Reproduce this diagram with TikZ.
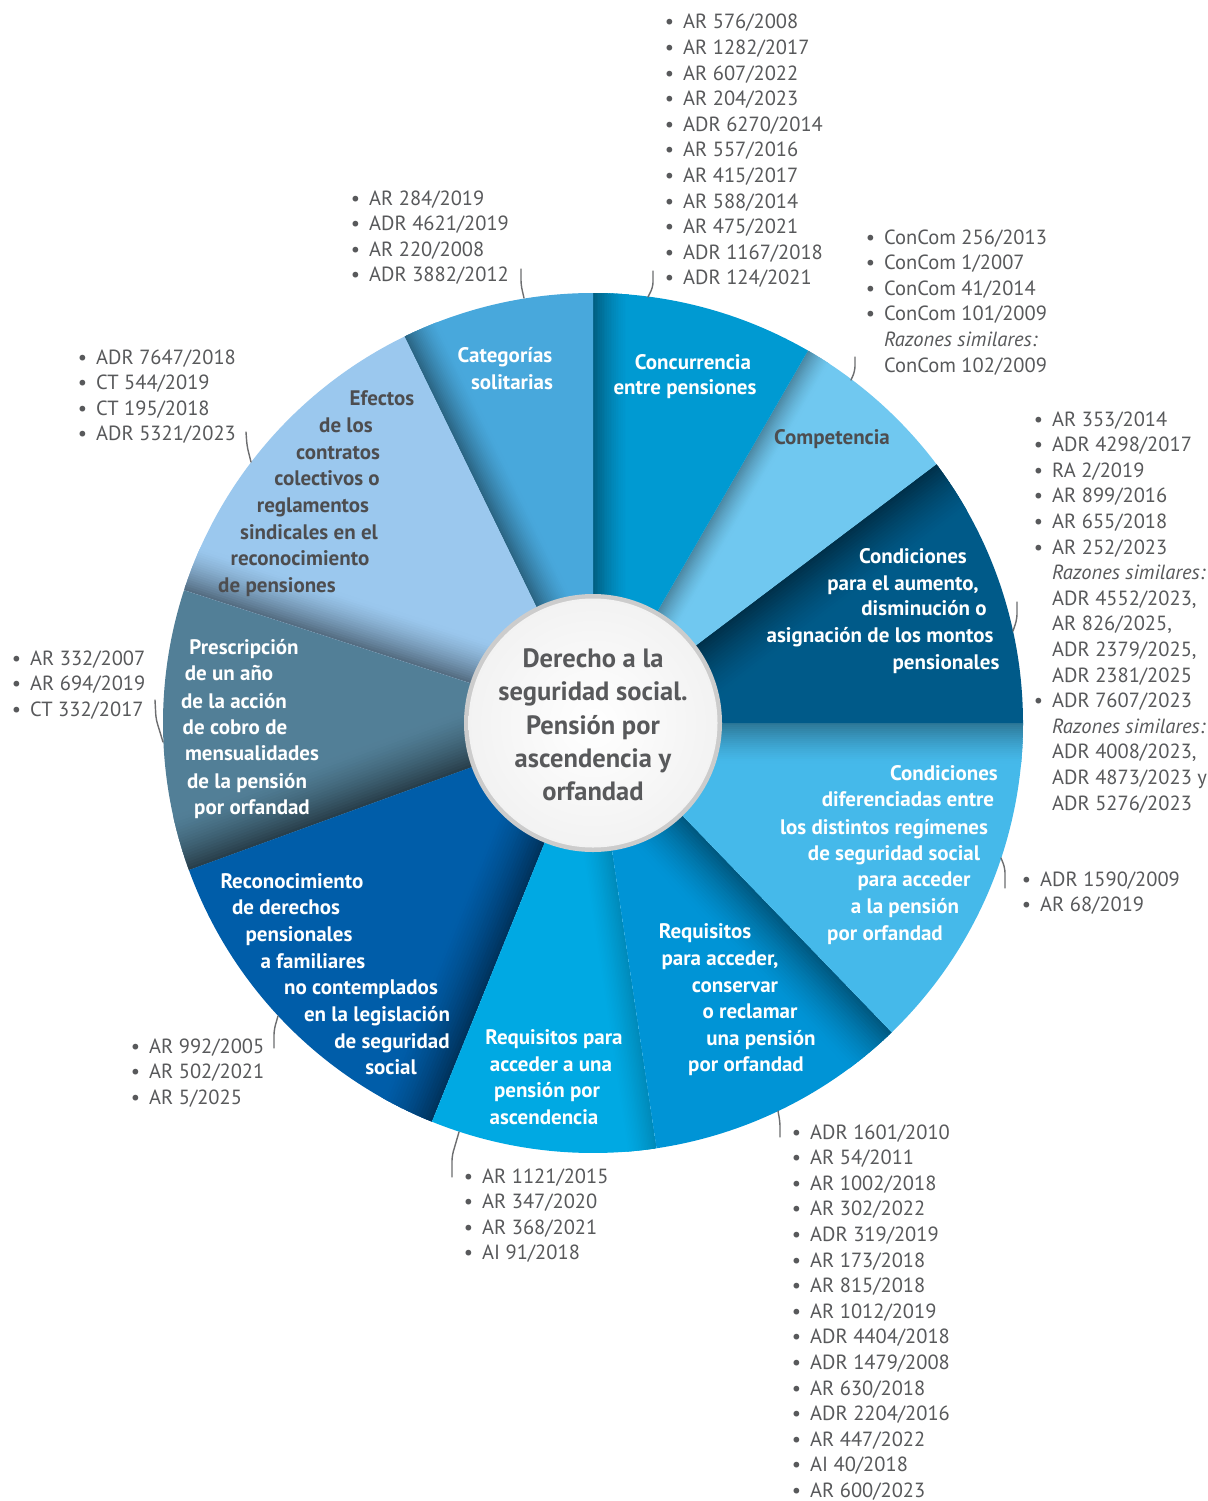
\documentclass[tikz,border=0pt]{standalone}
\usepackage{fontspec}
\setmainfont{PT Sans}
\definecolor{txtgray}{HTML}{58595B}
\definecolor{dkgray}{HTML}{4D4D4F}
\definecolor{leader}{HTML}{6D6E70}
\definecolor{cCat}{HTML}{48A8DC}
\definecolor{cCon}{HTML}{009AD2}
\definecolor{cCom}{HTML}{70C8F0}
\definecolor{cAum}{HTML}{005A89}
\definecolor{cDif}{HTML}{45B9EA}
\definecolor{cReqO}{HTML}{0094D6}
\definecolor{cReqA}{HTML}{00A9E3}
\definecolor{cRec}{HTML}{005DA9}
\definecolor{cPre}{HTML}{527F97}
\definecolor{cEfe}{HTML}{9BC8EE}
% #1 start angle, #2 end angle, #3 base colour, #4 shadow colour, #5 shadow width
\newcommand\pieslice[5]{%
  \begin{scope}
    \clip (0,0) -- (#1:430) arc[start angle=#1, end angle=#2, radius=430] -- cycle;
    \fill[#3] (-440,-440) rectangle (440,440);
    \begin{scope}[rotate=-#2]
      \foreach \k in {0,...,19}{%
        \pgfmathtruncatemacro\pct{100*(1-\k/20)^1.4}%
        \fill[#4!\pct!#3] (0,{-#5*\k/20}) rectangle (440,{-#5*(\k+1)/20-0.8});
      }
    \end{scope}
  \end{scope}}
\newcommand\itm{\llap{\textbullet\hspace{9pt}}}
\begin{document}
\begin{tikzpicture}[x=1pt,y=-1pt,
  lab/.style={anchor=base, inner sep=0pt, font=\bfseries\fontsize{21}{26}\selectfont, text=white},
  labd/.style={lab, text=dkgray},
  hubtxt/.style={anchor=base, inner sep=0pt, font=\bfseries\fontsize{26.5}{33}\selectfont, text=txtgray},
  lst/.style={anchor=base west, inner sep=0pt, font=\fontsize{20.5}{25.6}\selectfont, text=txtgray},
  leaderline/.style={draw=leader, line width=1.4pt, rounded corners=5pt, line cap=round}]
\useasboundingbox (0,0) rectangle (1207,1501);
\fill[white] (0,0) rectangle (1207,1501);

% ---- pie ----
\begin{scope}[shift={(593,723)}, yscale=-1]
  \pieslice{162}{200}{cPre}{cPre!50!black}{55}
  \pieslice{200}{248}{cRec}{cRec!55!black}{55}
  \pieslice{248}{278.5}{cReqA}{cReqA!82!black}{30}
  \pieslice{278.5}{314}{cReqO}{cReqO!60!black}{55}
  \pieslice{314}{360}{cDif}{cDif!65!black}{40}
  \pieslice{0}{37}{cAum}{cAum!55!black}{55}
  \pieslice{37}{60}{cCom}{cCom!68!black}{25}
  \pieslice{60}{90}{cCon}{cCon!62!black}{35}
  \pieslice{90}{116}{cCat}{cCat!60!black}{35}
  \pieslice{116}{162}{cEfe}{cEfe!55!black}{45}
  \fill[black!20] (0,0) circle[radius=129];
  \shade[inner color=white, outer color=black!5] (0,0) circle[radius=124.5];
\end{scope}

% ---- centre text ----
\node[hubtxt] (hub1) at (593,667) {Derecho a la};
\node[hubtxt] (hub2) at (593,700) {seguridad social.};
\node[hubtxt] (hub3) at (593,734) {Pensión por};
\node[hubtxt] (hub4) at (593,767) {ascendencia y};
\node[hubtxt] (hub5) at (593,800) {orfandad};

% ---- sector labels ----
\node[lab] (cat1) at (505,362) {Categorías};
\node[lab] (cat2) at (512,389) {solitarias};

\node[lab] (con1) at (693,369) {Concurrencia};
\node[lab] (con2) at (685,394) {entre pensiones};

\node[labd] (com1) at (832,444) {Competencia};

\node[lab] (aum1) at (913,563) {Condiciones};
\node[lab] (aum2) at (903,590) {para el aumento,};
\node[lab] (aum3) at (924,615) {disminución o};
\node[lab] (aum4) at (880,642) {asignación de los montos};
\node[lab] (aum5) at (946,669) {pensionales};

\node[lab] (dif1) at (944,780) {Condiciones};
\node[lab] (dif2) at (908,806) {diferenciadas entre};
\node[lab] (dif3) at (884,834) {los distintos regímenes};
\node[lab] (dif4) at (894,860) {de seguridad social};
\node[lab] (dif5) at (914,886) {para acceder};
\node[lab] (dif6) at (905,913) {a la pensión};
\node[lab] (dif7) at (885,940) {por orfandad};

\node[lab] (rqo1) at (705,938) {Requisitos};
\node[lab] (rqo2) at (720,965) {para acceder,};
\node[lab] (rqo3) at (735,992) {conservar};
\node[lab] (rqo4) at (750,1018) {o reclamar};
\node[lab] (rqo5) at (761,1045) {una pensión};
\node[lab] (rqo6) at (746,1071) {por orfandad};

\node[lab] (rqa1) at (554,1044) {Requisitos para};
\node[lab] (rqa2) at (551,1071) {acceder a una};
\node[lab] (rqa3) at (547,1097) {pensión por};
\node[lab] (rqa4) at (544,1124) {ascendencia};

\node[lab] (rec1) at (292,888) {Reconocimiento};
\node[lab] (rec2) at (286,914) {de derechos};
\node[lab] (rec3) at (299,941) {pensionales};
\node[lab] (rec4) at (313,968) {a familiares};
\node[lab] (rec5) at (361,994) {no contemplados};
\node[lab] (rec6) at (377,1021) {en la legislación};
\node[lab] (rec7) at (392,1048) {de seguridad};
\node[lab] (rec8) at (391,1074) {social};

\node[lab] (pre1) at (244,654) {Prescripción};
\node[lab] (pre2) at (229,680) {de un año};
\node[lab] (pre3) at (234,708) {de la acción};
\node[lab] (pre4) at (235,734) {de cobro de};
\node[lab] (pre5) at (252,760) {mensualidades};
\node[lab] (pre6) at (247,788) {de la pensión};
\node[lab] (pre7) at (252,814) {por orfandad};

\node[labd] (efe1) at (382,405) {Efectos};
\node[labd] (efe2) at (346,432) {de los};
\node[labd] (efe3) at (338,459) {contratos};
\node[labd] (efe4) at (327,485) {colectivos o};
\node[labd] (efe5) at (313,512) {reglamentos};
\node[labd] (efe6) at (309,539) {sindicales en el};
\node[labd] (efe7) at (300,565) {reconocimiento};
\node[labd] (efe8) at (277,592) {de pensiones};

% ---- lists ----
\node[lst] (Lcon) at (683,29) {\begin{tabular}[t]{@{}l@{}}
\itm AR 576/2008\\ \itm AR 1282/2017\\ \itm AR 607/2022\\ \itm AR 204/2023\\
\itm ADR 6270/2014\\ \itm AR 557/2016\\ \itm AR 415/2017\\ \itm AR 588/2014\\
\itm AR 475/2021\\ \itm ADR 1167/2018\\ \itm ADR 124/2021\end{tabular}};

\node[lst] (Lcom) at (884,244) {\begin{tabular}[t]{@{}l@{}}
\itm ConCom 256/2013\\ \itm ConCom 1/2007\\ \itm ConCom 41/2014\\ \itm ConCom 101/2009\\
\textit{Razones similares:}\\ ConCom 102/2009\end{tabular}};

\node[lst] (Lcat) at (369,205) {\begin{tabular}[t]{@{}l@{}}
\itm AR 284/2019\\ \itm ADR 4621/2019\\ \itm AR 220/2008\\ \itm ADR 3882/2012\end{tabular}};

\node[lst] (Lefe) at (96,364) {\begin{tabular}[t]{@{}l@{}}
\itm ADR 7647/2018\\ \itm CT 544/2019\\ \itm CT 195/2018\\ \itm ADR 5321/2023\end{tabular}};

\node[lst] (Lpre) at (30,665) {\begin{tabular}[t]{@{}l@{}}
\itm AR 332/2007\\ \itm AR 694/2019\\ \itm CT 332/2017\end{tabular}};

\node[lst] (Laum) at (1052,426) {\begin{tabular}[t]{@{}l@{}}
\itm AR 353/2014\\ \itm ADR 4298/2017\\ \itm RA 2/2019\\ \itm AR 899/2016\\
\itm AR 655/2018\\ \itm AR 252/2023\\ \textit{Razones similares:}\\ ADR 4552/2023,\\
AR 826/2025,\\ ADR 2379/2025,\\ ADR 2381/2025\\ \itm ADR 7607/2023\\
\textit{Razones similares:}\\ ADR 4008/2023,\\ ADR 4873/2023 y\\ ADR 5276/2023\end{tabular}};

\node[lst] (Ldif) at (1040,886) {\begin{tabular}[t]{@{}l@{}}
\itm ADR 1590/2009\\ \itm AR 68/2019\end{tabular}};

\node[lst] (Lrqo) at (810,1139) {\begin{tabular}[t]{@{}l@{}}
\itm ADR 1601/2010\\ \itm AR 54/2011\\ \itm AR 1002/2018\\ \itm AR 302/2022\\
\itm ADR 319/2019\\ \itm AR 173/2018\\ \itm AR 815/2018\\ \itm AR 1012/2019\\
\itm ADR 4404/2018\\ \itm ADR 1479/2008\\ \itm AR 630/2018\\ \itm ADR 2204/2016\\
\itm AR 447/2022\\ \itm AI 40/2018\\ \itm AR 600/2023\end{tabular}};

\node[lst] (Lrqa) at (482,1183) {\begin{tabular}[t]{@{}l@{}}
\itm AR 1121/2015\\ \itm AR 347/2020\\ \itm AR 368/2021\\ \itm AI 91/2018\end{tabular}};

\node[lst] (Lrec) at (149,1053) {\begin{tabular}[t]{@{}l@{}}
\itm AR 992/2005\\ \itm AR 502/2021\\ \itm AR 5/2025\end{tabular}};

% ---- leader lines ----
\coordinate (kcon1) at (648,297); \coordinate (kcon2) at (653,287); \coordinate (kcon3) at (653,271);
\coordinate (kcom1) at (851,380); \coordinate (kcom2) at (855,371); \coordinate (kcom3) at (855,357);
\coordinate (kcat1) at (524,298); \coordinate (kcat2) at (521,285); \coordinate (kcat3) at (521,269);
\coordinate (kefe1) at (251,462); \coordinate (kefe2) at (247,446); \coordinate (kefe3) at (246,432);
\coordinate (kpre1) at (163,742); \coordinate (kpre2) at (156,719); \coordinate (kpre3) at (155,700);
\coordinate (kaum1) at (1013,631); \coordinate (kaum2) at (1017,619); \coordinate (kaum3) at (1017,602);
\coordinate (kdif1) at (1001,858); \coordinate (kdif2) at (1005,868); \coordinate (kdif3) at (1005,888);
\coordinate (krqo1) at (778,1111); \coordinate (krqo2) at (780,1122); \coordinate (krqo3) at (780,1137);
\coordinate (krqa1) at (459,1132); \coordinate (krqa2) at (452,1156); \coordinate (krqa3) at (452,1177);
\coordinate (krec1) at (278,1016); \coordinate (krec2) at (274,1030); \coordinate (krec3) at (274,1048);
\foreach \s in {con,com,cat,efe,pre,aum,dif,rqo,rqa,rec}{
  \draw[leaderline] (k\s1) -- (k\s2) -- (k\s3);
}
\end{tikzpicture}
\end{document}
